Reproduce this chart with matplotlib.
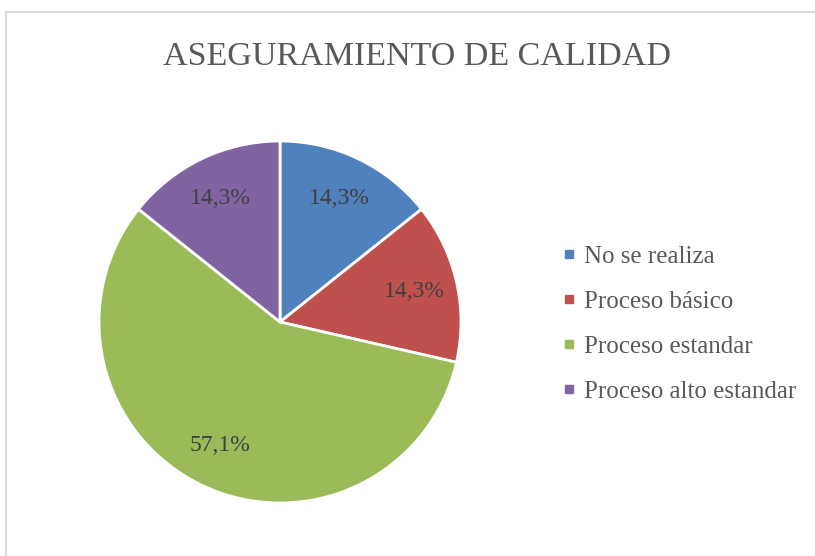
import matplotlib
matplotlib.use("Agg")
import matplotlib.pyplot as plt
from matplotlib.lines import Line2D
from matplotlib.patches import Rectangle

# data
categories = ["No se realiza", "Proceso básico", "Proceso estandar", "Proceso alto estandar"]
values = [1, 1, 4, 1]
colors = ["#4F81BD", "#C0504D", "#9BBB59", "#8064A2"]
title = "ASEGURAMIENTO DE CALIDAD"

W, H = 815, 556
fig = plt.figure(figsize=(W / 100, H / 100), dpi=100)

# chart area border (runs off the right and bottom edges)
fig.patches.append(Rectangle((6 / W, -0.05), 1.0, 1.05 - 12 / H, transform=fig.transFigure,
                             fill=False, edgecolor="#D9D9D9", linewidth=1.5))

cx, cy, r = 280, 322, 181
ax = fig.add_axes([(cx - r) / W, (H - cy - r) / H, 2 * r / W, 2 * r / H])
wedges, texts, autotexts = ax.pie(
    values, colors=colors, startangle=90, counterclock=False,
    autopct=lambda p: f"{p:.1f}%".replace(".", ","), pctdistance=0.76,
    wedgeprops=dict(edgecolor="white", linewidth=2),
    textprops=dict(fontsize=17, color="#404040", family="Liberation Serif"),
)
ax.set_xlim(-1, 1)
ax.set_ylim(-1, 1)
ax.set_aspect("equal")
ax.axis("off")

fig.text(417 / W, 1 - 57 / H, title, ha="center", va="center", fontsize=24.5,
         color="#595959", family="Liberation Serif")

handles = [Line2D([], [], marker="s", linestyle="", markersize=5.5, color=c) for c in colors]
fig.legend(handles, categories, loc="upper left", bbox_to_anchor=(540 / W, 1 - 223 / H),
           frameon=False, handlelength=0.5, handletextpad=0.35, labelspacing=0.9,
           prop=dict(family="Liberation Serif", size=18), labelcolor="#595959")

fig.savefig("out.png", dpi=100)
